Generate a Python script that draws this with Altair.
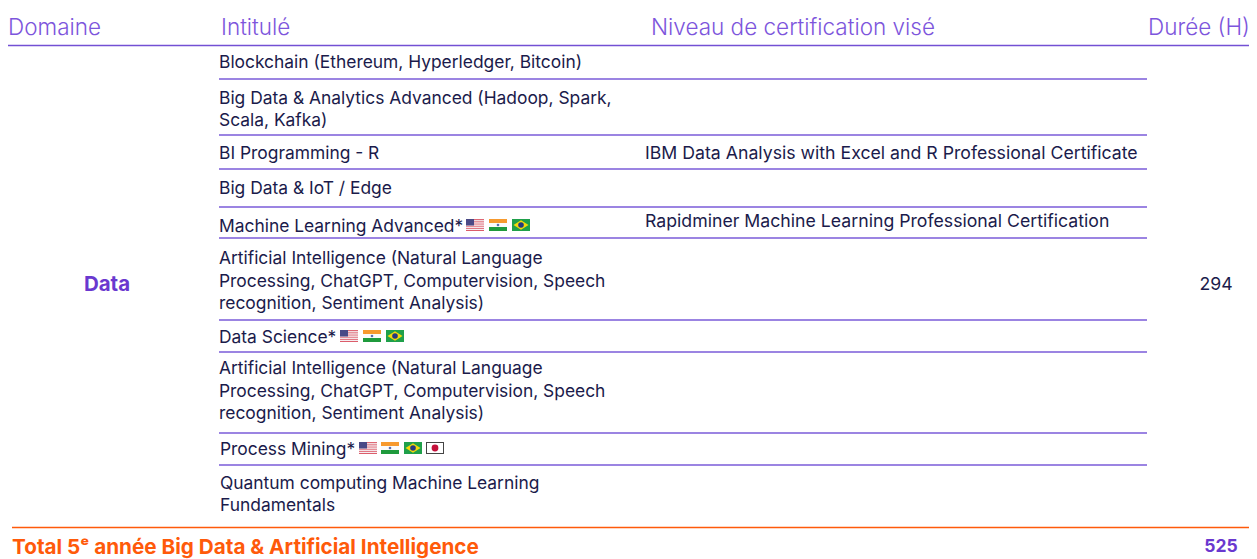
import base64
import altair as alt
import pandas as pd

FONT = "Inter"
INK = "#1b1b4b"
PURPLE = "#6a38cf"
HEAD = "#7d55dc"
ORANGE = "#ff5a0a"
BODY = 17.7
COURSE = 17.4

headers = ["Domaine", "Intitulé", "Niveau de certification visé", "Durée (H)"]
header_x = [8, 221, 651, 1148]
header_base = 34.5

course_lines = [
    "Blockchain (Ethereum, Hyperledger, Bitcoin)",
    "Big Data & Analytics Advanced (Hadoop, Spark,", "Scala, Kafka)",
    "BI Programming - R",
    "Big Data & IoT / Edge",
    "Machine Learning Advanced*",
    "Artificial Intelligence (Natural Language", "Processing, ChatGPT, Computervision, Speech", "recognition, Sentiment Analysis)",
    "Data Science*",
    "Artificial Intelligence (Natural Language", "Processing, ChatGPT, Computervision, Speech", "recognition, Sentiment Analysis)",
    "Process Mining*",
    "Quantum computing Machine Learning", "Fundamentals",
]
course_base = [68, 104, 126, 159, 194, 231.5, 263.5, 286.5, 308.5, 342.5, 374, 396.5, 419, 454.5, 488.5, 511]
course_x = [219] * 13 + [220] * 3

certs = ["IBM Data Analysis with Excel and R Professional Certificate",
         "Rapidminer Machine Learning Professional Certification"]
cert_base = [159, 227]
cert_x = [645, 645]

separators = [79, 135, 169, 207, 238, 320, 352, 433, 465]

flag_codes = ["us", "in", "br", "us", "in", "br", "us", "in", "br", "jp"]
flag_x = [466, 489, 512, 340, 363, 386, 359, 381, 404, 426]
flag_y = [219, 219, 219, 330, 330, 330, 442, 442, 442, 442]

total_label = "Total 5ᵉ année Big Data & Artificial Intelligence"


def svg_uri(body):
    svg = f'<svg xmlns="http://www.w3.org/2000/svg" width="18" height="12" viewBox="0 0 18 12">{body}</svg>'
    return "data:image/svg+xml;base64," + base64.b64encode(svg.encode()).decode()


stripes = "".join(
    f'<rect y="{i * 12 / 13:.2f}" width="18" height="{12 / 13:.2f}" fill="{"#d9505f" if i % 2 == 0 else "#f4f0f2"}"/>'
    for i in range(13)
)
flags = {
    "us": svg_uri(stripes + '<rect width="8" height="6.5" fill="#4a4a86"/>'),
    "in": svg_uri('<rect width="18" height="4" fill="#f79a2e"/><rect y="4" width="18" height="4" fill="#fbfbfb"/>'
                  '<rect y="8" width="18" height="4" fill="#1f9a3c"/><circle cx="9" cy="6" r="1.3" fill="#5a6fb0"/>'),
    "br": svg_uri('<rect width="18" height="12" fill="#1fa04a"/><polygon points="9,1.2 16.5,6 9,10.8 1.5,6" fill="#f5d90a"/>'
                  '<circle cx="9" cy="6" r="2.8" fill="#26397f"/>'),
    "jp": svg_uri('<rect width="18" height="12" fill="#444"/><rect x="1" y="1" width="16" height="10" fill="#fff"/>'
                  '<circle cx="9" cy="6" r="3.4" fill="#c4103a"/>'),
}

X = alt.Scale(domain=[8, 1249], range=[0, 1241])
Y = alt.Scale(domain=[8, 559], range=[0, 551])
x_enc = alt.X("x:Q", scale=X, axis=None)
y_enc = alt.Y("y:Q", scale=Y, axis=None)


def text_layer(labels, xs, ys, size, color, weight=400, align="left"):
    df = pd.DataFrame({"t": labels, "x": xs, "y": ys})
    return alt.Chart(df).mark_text(
        font=FONT, fontSize=size, color=color, fontWeight=weight, align=align, baseline="alphabetic"
    ).encode(x=x_enc, y=y_enc, text="t:N")


def rule_layer(x1, x2, ys, color, width=1.5):
    df = pd.DataFrame({"x": [x1] * len(ys), "x2": [x2] * len(ys), "y": ys})
    return alt.Chart(df).mark_rule(color=color, strokeWidth=width).encode(x=x_enc, x2="x2:Q", y=y_enc)


layers = [
    rule_layer(8, 1249, [45.5], "#7350d4"),
    rule_layer(219, 1147, separators, "#7a5bd8"),
    rule_layer(12, 1249, [527.5], ORANGE),
    text_layer(headers, header_x, [header_base] * 4, 22.5, HEAD, 300),
    text_layer(course_lines, course_x, course_base, COURSE, INK),
    text_layer(certs, cert_x, cert_base, BODY, INK),
    text_layer(["Data"], [107], [291], 20.5, PURPLE, 700, "center"),
    text_layer(["294"], [1216], [289.5], BODY, INK, 400, "center"),
    text_layer([total_label], [12], [554], 20.7, ORANGE, 700),
    text_layer(["525"], [1221], [552], 17.5, PURPLE, 700, "center"),
    alt.Chart(pd.DataFrame({"x": flag_x, "y": flag_y, "u": [flags[c] for c in flag_codes]}))
    .mark_image(width=18, height=12, align="left", baseline="top")
    .encode(x=x_enc, y=y_enc, url="u:N"),
]

chart = (
    alt.layer(*layers)
    .properties(width=1241, height=551, padding=0,
                view=alt.ViewBackground(stroke="white", strokeWidth=0, strokeOpacity=0),
                autosize=alt.AutoSizeParams(type="none"))
    .configure_view(strokeWidth=0, stroke="white", strokeOpacity=0)
)
chart.save("out.html", embed_options={"renderer": "svg", "actions": False})
